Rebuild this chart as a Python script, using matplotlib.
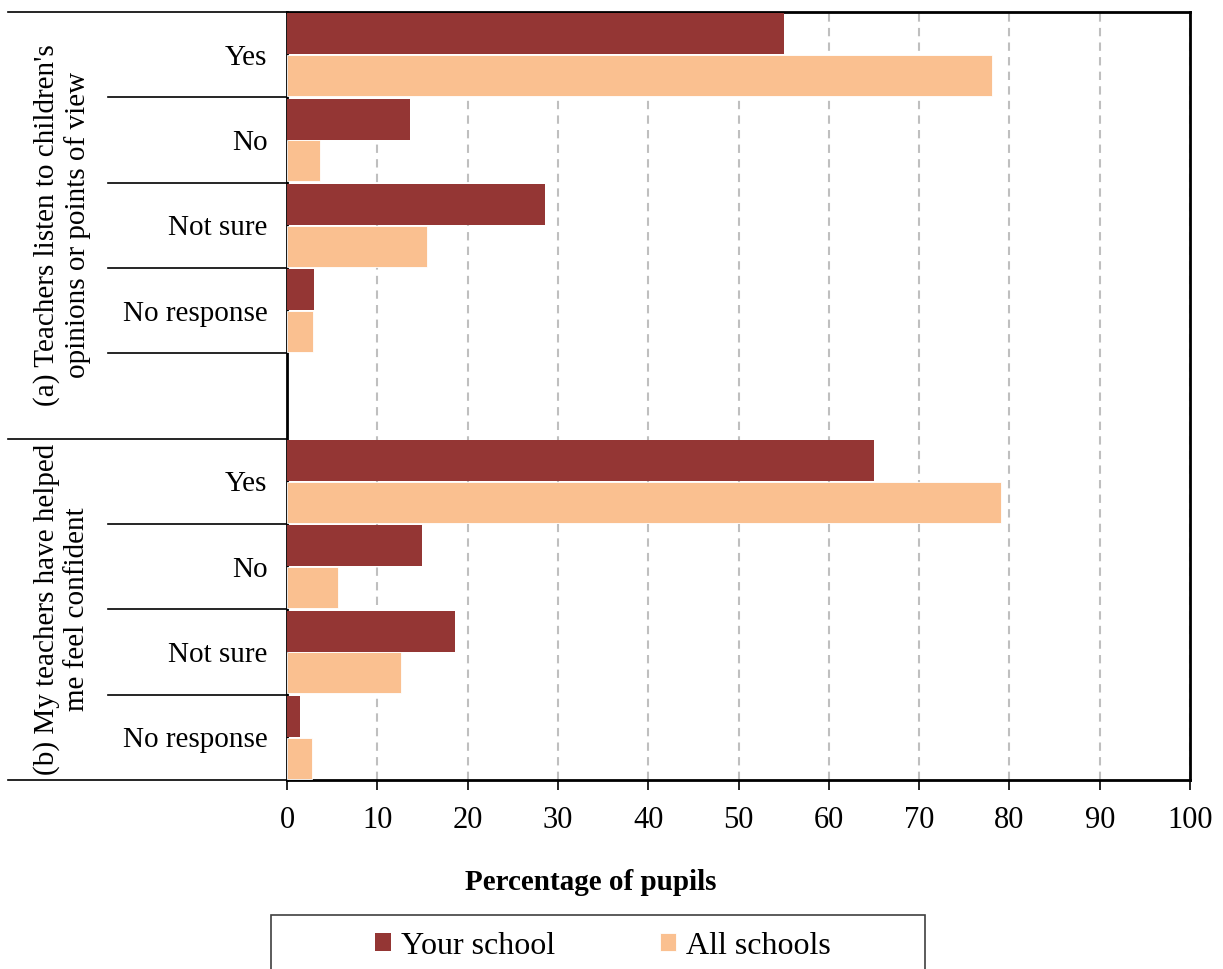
import numpy as np
import matplotlib.pyplot as plt
from matplotlib.patches import Rectangle
from matplotlib.transforms import blended_transform_factory

plt.rcParams['font.family'] = ['Liberation Serif', 'DejaVu Serif']

# data
answers = ["Yes", "No", "Not sure", "No response"]
your_a = [55.0, 13.6, 28.6, 3.0]
all_a = [78.1, 3.7, 15.5, 2.9]
your_b = [65.0, 15.0, 18.6, 1.4]
all_b = [79.1, 5.7, 12.6, 2.8]
questions = ["(a) Teachers listen to children's\nopinions or points of view",
             "(b) My teachers have helped\nme feel confident"]
xticks = list(range(0, 101, 10))

dark = '#943634'
light = '#FAC090'

# slot positions: 4 answers, blank slot, 4 answers
pos_a = np.arange(4)
pos_b = np.arange(5, 9)
pos = np.concatenate([pos_a, pos_b])
your = your_a + your_b
alls = all_a + all_b

fig = plt.figure(figsize=(12.23, 9.69), dpi=100)
ax = fig.add_axes([287/1223, 1-780/969, (1190-287)/1223, (780-12)/969])

h = 0.48
ax.barh(pos - 0.245, your, height=h, color=dark, zorder=3, label='Your school')
ax.barh(pos + 0.245, alls, height=h, color=light, edgecolor='white', linewidth=0.6,
        zorder=3, label='All schools')

ax.set_xlim(0, 100)
ax.set_ylim(8.5, -0.5)
ax.set_xticks(xticks)
ax.set_xticklabels([str(t) for t in xticks], fontsize=22)
ax.set_yticks(pos)
ax.set_yticklabels(answers + answers, fontsize=21)
ax.tick_params(axis='y', length=0, pad=14)
ax.tick_params(axis='x', length=7, width=1.2, pad=12, color='black')

ax.grid(axis='x', color='#BFBFBF', linestyle=(0, (4, 3)), linewidth=1.5, zorder=0)
for s in ax.spines.values():
    s.set_linewidth(2)
    s.set_color('black')

# category separators left of the plot
tr = blended_transform_factory(fig.transFigure, ax.transData)
for b in [0.5, 1.5, 2.5, 3.5, 5.5, 6.5, 7.5]:
    ax.plot([108/1223, 287/1223], [b, b], color='black', linewidth=1.2,
            transform=tr, clip_on=False)
for b in [-0.5, 4.5, 8.5]:
    ax.plot([8/1223, 287/1223], [b, b], color='black', linewidth=1.2,
            transform=tr, clip_on=False)

# question labels, centred on their group of slots
fig.text(62/1223, 2.0, questions[0], rotation=90, ha='center', va='center',
         fontsize=21, linespacing=1.2, transform=tr)
fig.text(62/1223, 6.5, questions[1], rotation=90, ha='center', va='center',
         fontsize=21, linespacing=1.2, transform=tr)

fig.text(591/1223, 1-883/969, 'Percentage of pupils', ha='center', va='center',
         fontsize=21, fontweight='bold')

# legend box runs off the bottom of the figure
fig.patches.append(Rectangle((271/1223, -0.05), (925-271)/1223, 0.05 + 1-915/969,
                             transform=fig.transFigure, fill=False,
                             edgecolor='#404040', linewidth=1.2))
fig.legend(loc='center', bbox_to_anchor=(603/1223, 1-946/969), ncol=2, frameon=False,
           fontsize=23, handlelength=0.5, handleheight=0.5, handletextpad=0.3,
           columnspacing=3.3)

fig.savefig('out.png', dpi=100)
